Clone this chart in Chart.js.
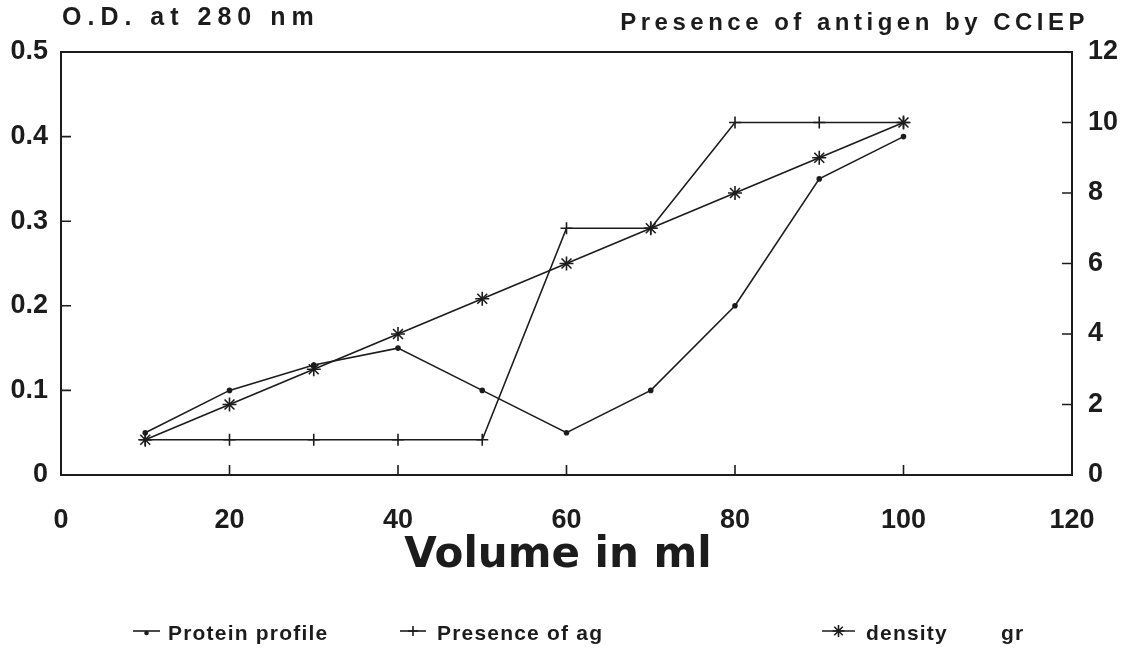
<!DOCTYPE html>
<html>
<head>
<meta charset="utf-8">
<script src="https://cdn.jsdelivr.net/npm/chart.js@4/dist/chart.umd.min.js"></script>
<style>
  html, body { margin: 0; padding: 0; background: #fff; }
  #wrap { width: 1136px; height: 653px; }
</style>
</head>
<body>
<div id="wrap"><canvas id="c" width="1136" height="653"></canvas></div>
<script>
const volume = [10, 20, 30, 40, 50, 60, 70, 80, 90, 100]
const protein = [0.05, 0.10, 0.13, 0.15, 0.10, 0.05, 0.10, 0.20, 0.35, 0.40]
const presence = [1, 1, 1, 1, 1, 7, 7, 10, 10, 10]
const density = [1, 2, 3, 4, 5, 6, 7, 8, 9, 10]

const leftTicks = [0.1, 0.2, 0.3, 0.4]
const rightTicks = [2, 4, 6, 8, 10]
const bottomTicks = [20, 40, 60, 80, 100]

const ink = "#1c1c1c"
const FONT = "'Liberation Sans', Arial, sans-serif"

const toPoints = (ys) => volume.map((v, i) => ({x: v, y: ys[i]}))

const series = [
    {label: "Protein profile", data: toPoints(protein), yAxisID: "y", pointStyle: "circle", pointRadius: 2},
    {label: "Presence of ag", data: toPoints(presence), yAxisID: "y1", pointStyle: "cross", pointRadius: 6},
    {label: "density", data: toPoints(density), yAxisID: "y1", pointStyle: "star", pointRadius: 7}
]

// frame, inward ticks, header texts, axis title and legend
const extras = {
    id: "extras",
    afterDatasetsDraw(chart) {
        const ctx = chart.ctx
        const a = chart.chartArea
        const sx = chart.scales.x, sy = chart.scales.y, sy1 = chart.scales.y1
        ctx.save()
        ctx.strokeStyle = ink
        ctx.lineWidth = 2
        ctx.strokeRect(a.left, a.top, a.right - a.left, a.bottom - a.top)

        ctx.lineWidth = 1.6
        ctx.beginPath()
        leftTicks.forEach(t => {
            const y = sy.getPixelForValue(t)
            ctx.moveTo(a.left, y); ctx.lineTo(a.left + 10, y)
        })
        rightTicks.forEach(t => {
            const y = sy1.getPixelForValue(t)
            ctx.moveTo(a.right - 10, y); ctx.lineTo(a.right, y)
        })
        bottomTicks.forEach(t => {
            const x = sx.getPixelForValue(t)
            ctx.moveTo(x, a.bottom); ctx.lineTo(x, a.bottom - 10)
        })
        ctx.stroke()

        ctx.fillStyle = ink
        ctx.textBaseline = "middle"
        ctx.letterSpacing = "6px"
        ctx.font = "bold 25px " + FONT
        ctx.textAlign = "left"
        ctx.fillText("O.D. at 280 nm", 62, 18)
        ctx.letterSpacing = "4.5px"
        ctx.font = "bold 24px " + FONT
        ctx.textAlign = "right"
        ctx.fillText("Presence of antigen by CCIEP", 1089, 23)

        ctx.letterSpacing = "0px"
        ctx.font = "bold 42px 'DejaVu Sans', sans-serif"
        ctx.textAlign = "center"
        ctx.fillText("Volume in ml", 558, 556)

        // legend
        const items = [
            {ds: 0, x0: 133, x1: 160, tx: 168},
            {ds: 1, x0: 400, x1: 426, tx: 437},
            {ds: 2, x0: 822, x1: 855, tx: 866}
        ]
        const ly = 634
        ctx.font = "bold 21px " + FONT
        ctx.letterSpacing = "1.2px"
        ctx.textAlign = "left"
        items.forEach(it => {
            const ds = chart.data.datasets[it.ds]
            ctx.lineWidth = 1.6
            ctx.beginPath()
            ctx.moveTo(it.x0, ly - 3); ctx.lineTo(it.x1, ly - 3)
            ctx.stroke()
            Chart.helpers.drawPoint(ctx, {
                pointStyle: ds.pointStyle,
                radius: it.ds === 0 ? 1.5 : (it.ds === 1 ? 5 : 6),
                rotation: 0,
                borderWidth: 1.6
            }, (it.x0 + it.x1) / 2, ly - 3 + (it.ds === 0 ? 2 : 0))
            ctx.fillText(ds.label, it.tx, ly)
        })
        ctx.fillText("gr", 1001, ly)
        ctx.restore()
    }
}

new Chart(document.getElementById("c"), {
    type: "line",
    data: {
        datasets: series.map(s => ({
            ...s,
            borderColor: ink,
            backgroundColor: ink,
            pointBorderColor: ink,
            pointBackgroundColor: ink,
            pointBorderWidth: 1.6,
            borderWidth: 1.6,
            fill: false,
            tension: 0
        }))
    },
    options: {
        responsive: false,
        animation: false,
        layout: {padding: {top: 52, left: 0, right: 0, bottom: 0}},
        plugins: {legend: {display: false}, tooltip: {enabled: false}},
        scales: {
            x: {
                type: "linear",
                min: 0, max: 120,
                afterFit: s => { s.height = 178 },
                grid: {display: false, drawTicks: false},
                border: {display: false},
                ticks: {stepSize: 20, padding: 29, color: ink, font: {family: FONT, size: 27, weight: "bold"}}
            },
            y: {
                position: "left",
                min: 0, max: 0.5,
                afterFit: s => { s.width = 61 },
                grid: {display: false, drawTicks: false},
                border: {display: false},
                ticks: {stepSize: 0.1, padding: 13, color: ink, font: {family: FONT, size: 27, weight: "bold"},
                    callback: v => v === 0 ? "0" : v.toFixed(1)}
            },
            y1: {
                position: "right",
                min: 0, max: 12,
                afterFit: s => { s.width = 64 },
                grid: {display: false, drawTicks: false},
                border: {display: false},
                ticks: {stepSize: 2, padding: 16, color: ink, font: {family: FONT, size: 27, weight: "bold"}}
            }
        }
    },
    plugins: [extras]
})
</script>
</body>
</html>
